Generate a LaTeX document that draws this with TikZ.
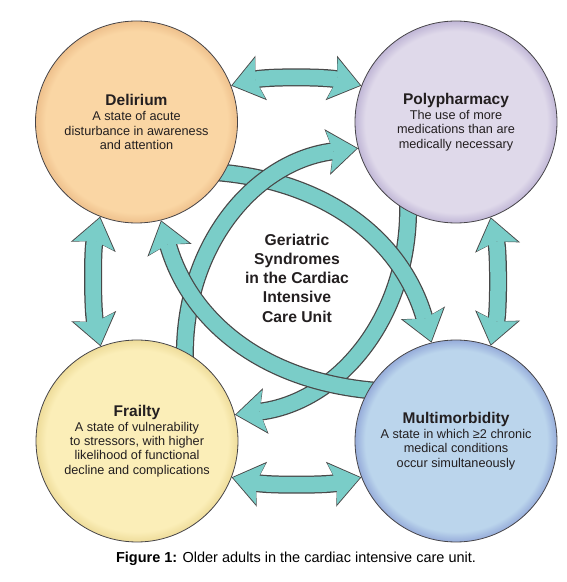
\documentclass[tikz,border=0pt]{standalone}
\usepackage{fontspec}
\setmainfont{Liberation Sans}
\usetikzlibrary{arrows.meta,backgrounds}

\definecolor{ringteal}{RGB}{122,205,200}
\definecolor{ringedge}{RGB}{72,72,72}
\definecolor{circedge}{RGB}{70,68,72}
\definecolor{inktext}{RGB}{35,31,32}
\definecolor{delin}{RGB}{250,214,164}
\definecolor{delout}{RGB}{238,192,140}
\definecolor{polyin}{RGB}{223,217,234}
\definecolor{polyout}{RGB}{192,182,214}
\definecolor{frailin}{RGB}{251,238,184}
\definecolor{frailout}{RGB}{238,220,154}
\definecolor{multiin}{RGB}{187,213,236}
\definecolor{multiout}{RGB}{150,172,218}

% flat centre, thin darker rim
\newcommand\rimshading[3]{\pgfdeclareradialshading{#1}{\pgfpointorigin}{color(0bp)=(#2); color(22.5bp)=(#2); color(25bp)=(#3); color(50bp)=(#3)}}
\rimshading{delshade}{delin}{delout}
\rimshading{polyshade}{polyin}{polyout}
\rimshading{frailshade}{frailin}{frailout}
\rimshading{multishade}{multiin}{multiout}

\newcommand\synname[1]{{\fontsize{15.5}{17}\selectfont\bfseries #1}}

\begin{document}
\begin{tikzpicture}[x=1pt, y=1pt,
    syndrome/.style={circle, draw=circedge, line width=0.8pt, minimum size=202pt, inner sep=0pt,
        align=center, text=inktext, font=\fontsize{12.7}{14.2}\selectfont, shade},
    hub/.style={align=center, text=inktext, font=\bfseries\fontsize{15.7}{19.2}\selectfont},
    caption/.style={text=black, font=\fontsize{14.5}{16}\selectfont},
    headin/.tip={Stealth[length=28.5pt, width=42pt, inset=5pt, line width=0pt]},
    headout/.tip={Stealth[length=31pt, width=46pt, inset=6pt, line width=0pt]},
    twoway/.style={draw=ringteal, line width=15.5pt, headin-headin, shorten >=1.4pt, shorten <=1.4pt,
        preaction={draw=ringedge, line width=18pt, headout-headout, shorten >=0pt, shorten <=0pt}},
    oneway/.style={draw=ringteal, line width=15.5pt, -headin, shorten >=1.4pt, shorten <=-12pt,
        preaction={draw=ringedge, line width=18pt, -headout, shorten >=0pt, shorten <=-12pt}}
]
    \useasboundingbox (0,0) rectangle (567,582);

    % Draw the four syndrome circles
    \node[syndrome, shading=delshade] (del) at (136.5,460)
        {\synname{Delirium}\\[1pt]A state of acute\\disturbance in awareness\\and attention};
    \node[syndrome, shading=polyshade] (poly) at (456,460)
        {\synname{Polypharmacy}\\[1pt]The use of more\\medications than are\\medically necessary};
    \node[syndrome, shading=frailshade] (frail) at (137,141)
        {\synname{Frailty}\\[1pt]A state of vulnerability\\to stressors, with higher\\likelihood of functional\\decline and complications};
    \node[syndrome, shading=multishade] (multi) at (456,141)
        {\synname{Multimorbidity}\\[1pt]A state in which ≥2 chronic\\medical conditions\\occur simultaneously};

    % Draw the centre label and the caption
    \node[hub] (hub) at (297,304) {Geriatric\\Syndromes\\in the Cardiac\\Intensive\\Care Unit};
    \node[caption] (cap) at (296,23) {\textbf{Figure 1:} Older adults in the cardiac intensive care unit.};

    % Draw all arrows behind the circles
    \begin{scope}[on background layer]
        \draw[twoway] (del.21) .. controls +(35,9) and +(-35,9) .. (poly.159); % Delirium - Polypharmacy
        \draw[twoway] (frail.339) .. controls +(35,-8) and +(-35,-8) .. (multi.201); % Frailty - Multimorbidity
        \draw[twoway] (del.249) .. controls +(-8,-35) and +(-8,35) .. (frail.111); % Delirium - Frailty
        \draw[twoway] (poly.290) .. controls +(8,-35) and +(8,35) .. (multi.70); % Polypharmacy - Multimorbidity

        % ring in the middle, drawn in stacking order
        \draw[oneway] (poly.242) to[out=272, in=7] (frail.15); % Polypharmacy to Frailty
        \draw[oneway] (del.-30) to[out=-4, in=106] (multi.104); % Delirium to Multimorbidity
        \draw[oneway] (frail.62) to[out=92, in=187] (poly.195); % Frailty to Polypharmacy
        \draw[oneway] (multi.150) to[out=176, in=286] (del.284); % Multimorbidity to Delirium
    \end{scope}

\end{tikzpicture}
\end{document}
